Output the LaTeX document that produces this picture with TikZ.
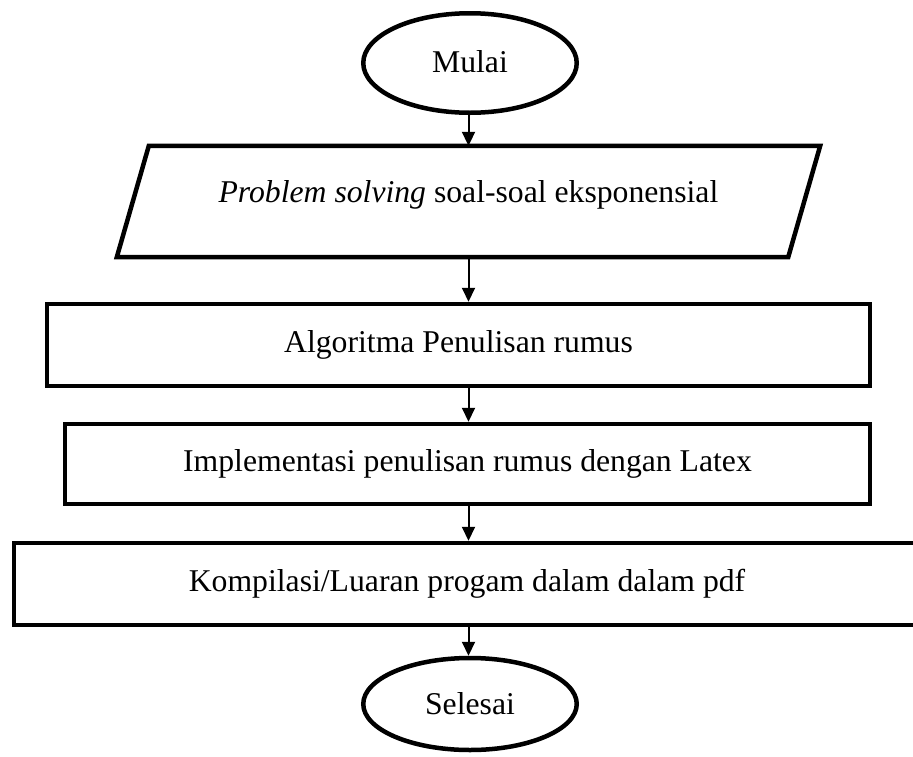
\documentclass[tikz,border=0pt]{standalone}
\usepackage{fontspec}
\setmainfont{Liberation Serif}
\usetikzlibrary{shapes.geometric,arrows.meta}
\tikzset{
  box/.style={draw=black, line width=4.5pt, inner sep=0pt, fill=white},
  term/.style={box, ellipse},
  proc/.style={box, rectangle},
  arr/.style={draw=black, line width=2pt, -{Triangle[length=14pt,width=13pt]}},
  lbl/.style={font=\fontsize{31.7}{36}\selectfont}
}
\begin{document}
\begin{tikzpicture}[x=1pt,y=-1pt]
\useasboundingbox (0,0) rectangle (913,756);
\fill[white] (0,0) rectangle (913,756);
% terminals
\node[term, lbl, minimum width=213.5pt, minimum height=99.5pt] (m) at (470,63) {\raisebox{3pt}{Mulai}};
\node[term, lbl, minimum width=213.5pt, minimum height=92pt] (s) at (470,704) {Selesai};
% parallelogram (input)
\node[inner sep=0pt, minimum width=671pt, minimum height=111pt] (p) at (468.5,201.5) {};
\draw[box] ([xshift=16pt]p.north west) -- ([xshift=16pt]p.north east)
  -- ([xshift=-16pt]p.south east) -- ([xshift=-16pt]p.south west) -- cycle;
\node[lbl, inner sep=0pt] (pt) at (468.5,195) {\textit{Problem solving} soal-soal eksponensial};
% processes
\node[proc, lbl, minimum width=823pt, minimum height=82pt] (a) at (458.5,345) {Algoritma Penulisan rumus};
\node[proc, lbl, minimum width=805pt, minimum height=80pt] (i) at (467.5,464) {Implementasi penulisan rumus dengan Latex};
\node[proc, lbl, minimum width=906pt, minimum height=82pt] (k) at (467,584) {Kompilasi/Luaran progam dalam dalam pdf};
% connectors
\draw[arr] (m.south -| p.north) -- (p.north);
\draw[arr] (p.south) -- (p.south |- a.north);
\draw[arr] (p.south |- a.south) -- (p.south |- i.north);
\draw[arr] (p.south |- i.south) -- (p.south |- k.north);
\draw[arr] (p.south |- k.south) -- (p.south |- s.north);
\end{tikzpicture}
\end{document}
